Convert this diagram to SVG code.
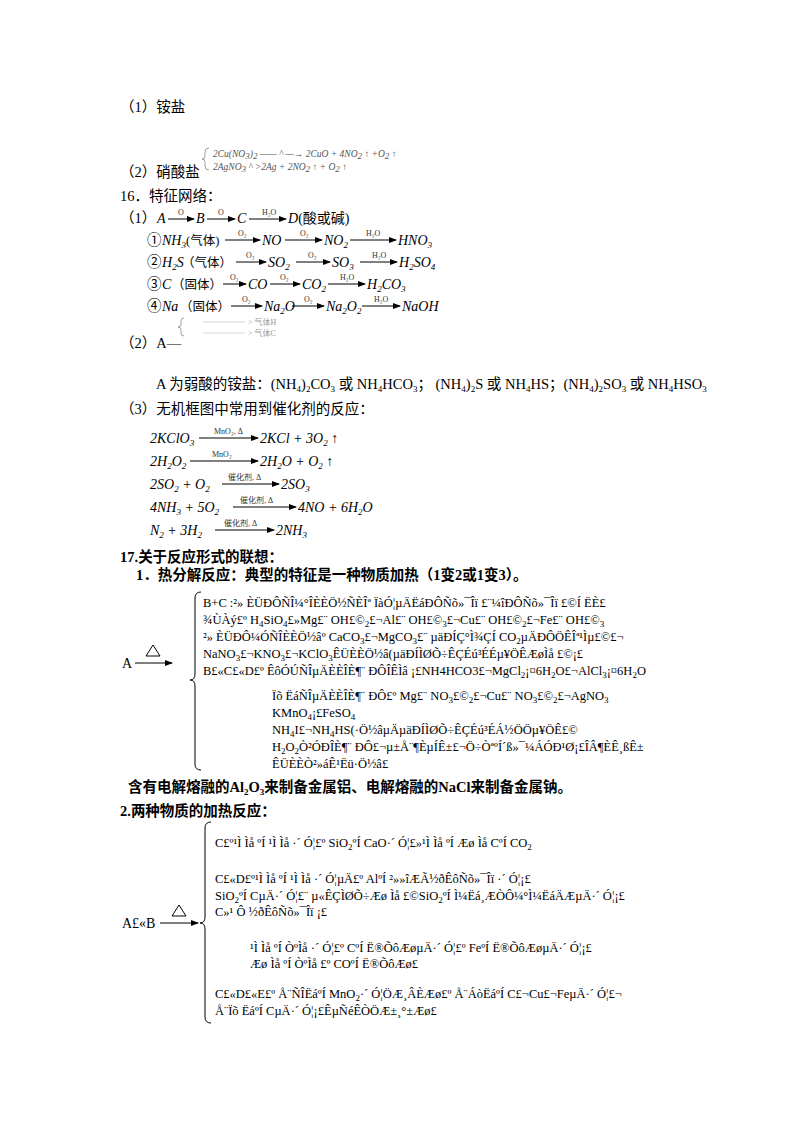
<svg xmlns="http://www.w3.org/2000/svg" width="800" height="1132" viewBox="0 0 800 1132">
<style>
text{font-family:"Liberation Serif","Noto Sans CJK SC",serif;font-size:14px;fill:#000}
.cn{font-size:14.5px}
.b{font-weight:bold}
.i{font-style:italic;font-size:14px}
.p{font-size:12.5px}
.s{font-size:9px}
.g{font-size:12.5px}
.sm{font-size:8px;fill:#333}
.fa{font-size:9.5px;fill:#555;font-style:italic}
.ln{stroke:#000;stroke-width:1;fill:none}
.lg{stroke:#888;stroke-width:0.8;fill:none}
</style>
<defs>
<marker id="ah" markerWidth="8" markerHeight="6" refX="7" refY="3" orient="auto"><path d="M0,0L8,3L0,6z" fill="#000"/></marker>
</defs>
<rect width="800" height="1132" fill="#fff"/>

<text x="120" y="112" class="cn">（1）铵盐</text>
<text x="120" y="177" class="cn">（2）硝酸盐</text>
<path class="lg" d="M209,148 q-4,0 -4,4 v4 q0,3 -3,3 q3,0 3,3 v4 q0,4 4,4"/>
<text x="213" y="157" class="fa">2Cu(NO<tspan class="s" dy="2">3</tspan><tspan dy="-2">)</tspan><tspan class="s" dy="2">2</tspan><tspan dy="-2"> —— ^ —→ 2CuO + 4NO</tspan><tspan class="s" dy="2">2</tspan><tspan dy="-2"> ↑ +O</tspan><tspan class="s" dy="2">2</tspan><tspan dy="-2"> ↑</tspan></text>
<text x="213" y="170" class="fa">2AgNO<tspan class="s" dy="2">3</tspan><tspan dy="-2">     ^   &gt;2Ag + 2NO</tspan><tspan class="s" dy="2">2</tspan><tspan dy="-2"> ↑ + O</tspan><tspan class="s" dy="2">2</tspan><tspan dy="-2"> ↑</tspan></text>

<text x="120" y="201" class="cn">16．特征网络：</text>

<g id="net">
<text x="120" y="223" class="cn">（1）</text>
<text x="157" y="223" class="i">A</text><line class="ln" x1="168" y1="219" x2="194" y2="219" marker-end="url(#ah)"/><text x="178" y="215" class="sm">O</text>
<text x="196" y="223" class="i">B</text><line class="ln" x1="207" y1="219" x2="235" y2="219" marker-end="url(#ah)"/><text x="218" y="215" class="sm">O</text>
<text x="237" y="223" class="i">C</text><line class="ln" x1="249" y1="219" x2="286" y2="219" marker-end="url(#ah)"/><text x="262" y="215" class="sm">H₂O</text>
<text x="288" y="223" class="i">D<tspan style="font-style:normal">(酸或碱)</tspan></text>

<text x="147" y="245" class="cn">①</text>
<text x="162" y="245" class="i">NH<tspan class="s" dy="3">3</tspan></text>
<text x="186" y="245" class="p">(气体)</text>
<line class="ln" x1="225" y1="240" x2="260" y2="240" marker-end="url(#ah)"/><text x="238" y="236" class="sm">O₂</text>
<text x="262" y="245" class="i">NO</text>
<line class="ln" x1="285" y1="240" x2="322" y2="240" marker-end="url(#ah)"/><text x="300" y="236" class="sm">O₂</text>
<text x="324" y="245" class="i">NO<tspan class="s" dy="3">2</tspan></text>
<line class="ln" x1="350" y1="240" x2="396" y2="240" marker-end="url(#ah)"/><text x="366" y="236" class="sm">H₂O</text>
<text x="398" y="245" class="i">HNO<tspan class="s" dy="3">3</tspan></text>

<text x="147" y="267" class="cn">②</text>
<text x="162" y="267" class="i">H<tspan class="s" dy="3">2</tspan><tspan dy="-3">S</tspan></text>
<text x="182" y="267" class="p">（气体）</text>
<line class="ln" x1="236" y1="262" x2="266" y2="262" marker-end="url(#ah)"/><text x="246" y="258" class="sm">O₂</text>
<text x="268" y="267" class="i">SO<tspan class="s" dy="3">2</tspan></text>
<line class="ln" x1="296" y1="262" x2="330" y2="262" marker-end="url(#ah)"/><text x="308" y="258" class="sm">O₂</text>
<text x="332" y="267" class="i">SO<tspan class="s" dy="3">3</tspan></text>
<line class="ln" x1="360" y1="262" x2="397" y2="262" marker-end="url(#ah)"/><text x="372" y="258" class="sm">H₂O</text>
<text x="399" y="267" class="i">H<tspan class="s" dy="3">2</tspan><tspan dy="-3">SO</tspan><tspan class="s" dy="3">4</tspan></text>

<text x="147" y="289" class="cn">③</text>
<text x="162" y="289" class="i">C</text>
<text x="172" y="289" class="p">（固体）</text>
<line class="ln" x1="223" y1="284" x2="246" y2="284" marker-end="url(#ah)"/><text x="230" y="280" class="sm">O₂</text>
<text x="248" y="289" class="i">CO</text>
<line class="ln" x1="270" y1="284" x2="300" y2="284" marker-end="url(#ah)"/><text x="280" y="280" class="sm">O₂</text>
<text x="302" y="289" class="i">CO<tspan class="s" dy="3">2</tspan></text>
<line class="ln" x1="328" y1="284" x2="365" y2="284" marker-end="url(#ah)"/><text x="340" y="280" class="sm">H₂O</text>
<text x="367" y="289" class="i">H<tspan class="s" dy="3">2</tspan><tspan dy="-3">CO</tspan><tspan class="s" dy="3">3</tspan></text>

<text x="147" y="311" class="cn">④</text>
<text x="162" y="311" class="i">Na</text>
<text x="180" y="311" class="p">（固体）</text>
<line class="ln" x1="231" y1="306" x2="262" y2="306" marker-end="url(#ah)"/><text x="242" y="302" class="sm">O₂</text>
<text x="264" y="311" class="i">Na<tspan class="s" dy="3">2</tspan><tspan dy="-3">O</tspan></text>
<line class="ln" x1="292" y1="306" x2="324" y2="306" marker-end="url(#ah)"/><text x="304" y="302" class="sm">O₂</text>
<text x="326" y="311" class="i">Na<tspan class="s" dy="3">2</tspan><tspan dy="-3">O</tspan><tspan class="s" dy="3">2</tspan></text>
<line class="ln" x1="362" y1="306" x2="400" y2="306" marker-end="url(#ah)"/><text x="374" y="302" class="sm">H₂O</text>
<text x="402" y="311" class="i">NaOH</text>
</g>

<path class="lg" d="M184,318 q-3,0 -3,3 v3 q0,3 -3,3 q3,0 3,3 v3 q0,3 3,3"/>
<line x1="203" y1="322" x2="245" y2="322" stroke="#ccc" stroke-width="0.8"/><text x="248" y="325" class="sm" style="fill:#999">&gt; 气体H</text>
<line x1="203" y1="333" x2="245" y2="333" stroke="#ccc" stroke-width="0.8"/><text x="248" y="336" class="sm" style="fill:#999">&gt; 气体C</text>
<text x="120" y="348" class="cn">（2）A—</text>

<text x="156" y="389" class="cn">A 为弱酸的铵盐：(NH<tspan class="s" dy="3">4</tspan><tspan dy="-3">)</tspan><tspan class="s" dy="3">2</tspan><tspan dy="-3">CO</tspan><tspan class="s" dy="3">3</tspan><tspan dy="-3"> 或 NH</tspan><tspan class="s" dy="3">4</tspan><tspan dy="-3">HCO</tspan><tspan class="s" dy="3">3</tspan><tspan dy="-3">；    (NH</tspan><tspan class="s" dy="3">4</tspan><tspan dy="-3">)</tspan><tspan class="s" dy="3">2</tspan><tspan dy="-3">S 或 NH</tspan><tspan class="s" dy="3">4</tspan><tspan dy="-3">HS；(NH</tspan><tspan class="s" dy="3">4</tspan><tspan dy="-3">)</tspan><tspan class="s" dy="3">2</tspan><tspan dy="-3">SO</tspan><tspan class="s" dy="3">3</tspan><tspan dy="-3"> 或 NH</tspan><tspan class="s" dy="3">4</tspan><tspan dy="-3">HSO</tspan><tspan class="s" dy="3">3</tspan></text>
<text x="120" y="414" class="cn">（3）无机框图中常用到催化剂的反应：</text>

<g id="cat">
<text x="150" y="443" class="i">2KClO<tspan class="s" dy="3">3</tspan></text>
<line class="ln" x1="199" y1="438" x2="258" y2="438" marker-end="url(#ah)"/><text x="214" y="434" class="sm">MnO₂, Δ</text>
<text x="260" y="443" class="i">2KCl + 3O<tspan class="s" dy="3">2</tspan><tspan dy="-3"> ↑</tspan></text>
<text x="150" y="466" class="i">2H<tspan class="s" dy="3">2</tspan><tspan dy="-3">O</tspan><tspan class="s" dy="3">2</tspan></text>
<line class="ln" x1="190" y1="461" x2="258" y2="461" marker-end="url(#ah)"/><text x="212" y="457" class="sm">MnO₂</text>
<text x="260" y="466" class="i">2H<tspan class="s" dy="3">2</tspan><tspan dy="-3">O + O</tspan><tspan class="s" dy="3">2</tspan><tspan dy="-3"> ↑</tspan></text>
<text x="150" y="489" class="i">2SO<tspan class="s" dy="3">2</tspan><tspan dy="-3"> + O</tspan><tspan class="s" dy="3">2</tspan></text>
<line class="ln" x1="222" y1="484" x2="279" y2="484" marker-end="url(#ah)"/><text x="228" y="480" class="sm">催化剂, Δ</text>
<text x="281" y="489" class="i">2SO<tspan class="s" dy="3">3</tspan></text>
<text x="150" y="512" class="i">4NH<tspan class="s" dy="3">3</tspan><tspan dy="-3"> + 5O</tspan><tspan class="s" dy="3">2</tspan></text>
<line class="ln" x1="233" y1="507" x2="296" y2="507" marker-end="url(#ah)"/><text x="240" y="503" class="sm">催化剂, Δ</text>
<text x="298" y="512" class="i">4NO + 6H<tspan class="s" dy="3">2</tspan><tspan dy="-3">O</tspan></text>
<text x="150" y="535" class="i">N<tspan class="s" dy="3">2</tspan><tspan dy="-3"> + 3H</tspan><tspan class="s" dy="3">2</tspan></text>
<line class="ln" x1="215" y1="530" x2="274" y2="530" marker-end="url(#ah)"/><text x="224" y="526" class="sm">催化剂, Δ</text>
<text x="276" y="535" class="i">2NH<tspan class="s" dy="3">3</tspan></text>
</g>

<text x="120" y="562" class="cn b">17.关于反应形式的联想：</text>
<text x="136" y="580" class="cn b">1．热分解反应：典型的特征是一种物质加热（1变2或1变3）。</text>

<g id="heat1">
<text x="122" y="668">A</text>
<line class="ln" x1="135" y1="663" x2="172" y2="663" marker-end="url(#ah)"/>
<path class="ln" d="M146,656 l7,-11 l7,11 z"/>
<path class="ln" d="M201,592 q-6,0 -6,6 v76 q0,6 -5,6 q5,0 5,6 v78 q0,6 6,6"/>
<text x="203" y="607" class="g">B+C :²» ÈÜÐÔÑÎ¼°ÎÈÈÖ½ÑÈÎª ÏàÓ¦µÄËáÐÔÑõ»¯Îï £¨¼îÐÔÑõ»¯Îï £©Í ËÈ£</text>
<text x="203" y="624" class="g">¾ÙÀý£º H<tspan class="s" dy="3">4</tspan><tspan dy="-3">SiO</tspan><tspan class="s" dy="3">4</tspan><tspan dy="-3">£»Mg£¨ OH£©</tspan><tspan class="s" dy="3">2</tspan><tspan dy="-3">£¬Al£¨ OH£©</tspan><tspan class="s" dy="3">3</tspan><tspan dy="-3">£¬Cu£¨ OH£©</tspan><tspan class="s" dy="3">2</tspan><tspan dy="-3">£¬Fe£¨ OH£©</tspan><tspan class="s" dy="3">3</tspan></text>
<text x="203" y="641" class="g">²» ÈÜÐÔ¼ÓÑÎÈÈÖ½âº CaCO<tspan class="s" dy="3">3</tspan><tspan dy="-3">£¬MgCO</tspan><tspan class="s" dy="3">3</tspan><tspan dy="-3">£¨ µäÐÍÇ°Ì¾ÇÍ CO</tspan><tspan class="s" dy="3">2</tspan><tspan dy="-3">µÄÐÔÖÊÎª¹Ìµ£©£¬</tspan></text>
<text x="203" y="658" class="g">NaNO<tspan class="s" dy="3">3</tspan><tspan dy="-3">£¬KNO</tspan><tspan class="s" dy="3">3</tspan><tspan dy="-3">£¬KClO</tspan><tspan class="s" dy="3">3</tspan><tspan dy="-3">ÊÜÈÈÖ½â(µäÐÍÌØÕ÷ÊÇÉú³ÉÉµ¥ÖÊÆøÌå £©¡£</tspan></text>
<text x="203" y="675" class="g">B£«C£«D£º ÊôÓÚÑÎµÄÈÈÎÈ¶¨ ÐÔÎÊÌâ ¡£NH4HCO3£¬MgCl<tspan class="s" dy="3">2</tspan><tspan dy="-3">¡¤6H</tspan><tspan class="s" dy="3">2</tspan><tspan dy="-3">O£¬AlCl</tspan><tspan class="s" dy="3">3</tspan><tspan dy="-3">¡¤6H</tspan><tspan class="s" dy="3">2</tspan><tspan dy="-3">O</tspan></text>
<text x="272" y="700" class="g">Ïõ ËáÑÎµÄÈÈÎÈ¶¨ ÐÔ£º Mg£¨ NO<tspan class="s" dy="3">3</tspan><tspan dy="-3">£©</tspan><tspan class="s" dy="3">2</tspan><tspan dy="-3">£¬Cu£¨ NO</tspan><tspan class="s" dy="3">3</tspan><tspan dy="-3">£©</tspan><tspan class="s" dy="3">2</tspan><tspan dy="-3">£¬AgNO</tspan><tspan class="s" dy="3">3</tspan></text>
<text x="272" y="717" class="g">KMnO<tspan class="s" dy="3">4</tspan><tspan dy="-3">¡£FeSO</tspan><tspan class="s" dy="3">4</tspan></text>
<text x="272" y="734" class="g">NH<tspan class="s" dy="3">4</tspan><tspan dy="-3">I£¬NH</tspan><tspan class="s" dy="3">4</tspan><tspan dy="-3">HS(·Ö½âµÄµäÐÍÌØÕ÷ÊÇÉú³ÉÁ½ÖÖµ¥ÖÊ£©</tspan></text>
<text x="272" y="751" class="g">H<tspan class="s" dy="3">2</tspan><tspan dy="-3">O</tspan><tspan class="s" dy="3">2</tspan><tspan dy="-3">Ò²ÓÐÎÈ¶¨ ÐÔ£¬µ±Å¨¶ÈµÍÊ±£¬Ö÷ÒªºÍ´ß»¯¼ÁÓÐ¹Ø¡£ÎÂ¶ÈÊ¸ßÊ±</tspan></text>
<text x="272" y="768" class="g">ÊÜÈÈÒ²»áÊ¹Ëü·Ö½â£</text>
</g>
<text x="128" y="792" class="cn b">含有电解熔融的Al<tspan class="s" dy="3">2</tspan><tspan dy="-3">O</tspan><tspan class="s" dy="3">3</tspan><tspan dy="-3">来制备金属铝、电解熔融的NaCl来制备金属钠。</tspan></text>
<text x="120" y="816" class="cn b">2.两种物质的加热反应：</text>

<g id="heat2">
<text x="122" y="928">A£«B</text>
<line class="ln" x1="160" y1="923" x2="198" y2="923" marker-end="url(#ah)"/>
<path class="ln" d="M172,916 l7,-11 l7,11 z"/>
<path class="ln" d="M211,822 q-6,0 -6,6 v89 q0,6 -5,6 q5,0 5,6 v88 q0,6 6,6"/>
<text x="215" y="847" class="g">C£º¹Ì Ìå ºÍ ¹Ì Ìå ·´ Ó¦£º SiO<tspan class="s" dy="3">2</tspan><tspan dy="-3">ºÍ CaO·´ Ó¦£»¹Ì Ìå ºÍ Æø Ìå CºÍ CO</tspan><tspan class="s" dy="3">2</tspan></text>
<text x="215" y="883" class="g">C£«D£º¹Ì Ìå ºÍ ¹Ì Ìå ·´ Ó¦µÄ£º AlºÍ ²»»îÆÃ½ðÊôÑõ»¯Îï ·´ Ó¦¡£</text>
<text x="215" y="900" class="g">SiO<tspan class="s" dy="3">2</tspan><tspan dy="-3">ºÍ CµÄ·´ Ó¦£¨ µ«ÊÇÌØÕ÷Æø Ìå £©SiO</tspan><tspan class="s" dy="3">2</tspan><tspan dy="-3">ºÍ Ì¼Ëá¸ÆÒÔ¼°Ì¼ËáÄÆµÄ·´ Ó¦¡£</tspan></text>
<text x="215" y="916" class="g">C»¹ Ô ½ðÊôÑõ»¯Îï ¡£</text>
<text x="250" y="952" class="g">¹Ì Ìå ºÍ ÒºÌå ·´ Ó¦£º CºÍ Ë®ÕôÆøµÄ·´ Ó¦£º FeºÍ Ë®ÕôÆøµÄ·´ Ó¦¡£</text>
<text x="250" y="968" class="g">Æø Ìå ºÍ ÒºÌå £º COºÍ Ë®ÕôÆø£</text>
<text x="215" y="998" class="g">C£«D£«E£º Å¨ÑÎËáºÍ MnO<tspan class="s" dy="3">2</tspan><tspan dy="-3">·´ Ó¦ÖÆ¸ÂÈÆø£º Å¨ÁòËáºÍ C£¬Cu£¬FeµÄ·´ Ó¦£¬</tspan></text>
<text x="215" y="1015" class="g">Å¨Ïõ ËáºÍ CµÄ·´ Ó¦¡£ÊµÑéÊÒÖÆ±¸°±Æø£</text>
</g>
</svg>
